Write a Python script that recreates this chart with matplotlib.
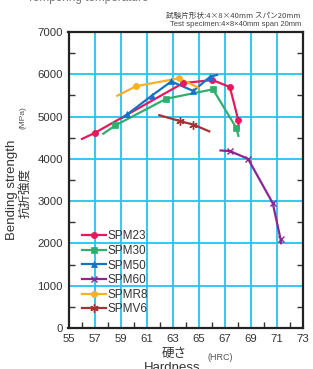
import matplotlib
matplotlib.use("Agg")
import matplotlib.pyplot as plt
from matplotlib.ticker import MultipleLocator, FixedLocator

# ---- data ----
spm23_x = [55.96, 57.0, 63.8, 66.05, 67.4, 68.05, 68.08]
spm23_y = [4460, 4610, 5790, 5865, 5700, 4915, 4680]
spm23_mx = [57.0, 63.8, 66.05, 67.4, 68.05]
spm23_my = [4610, 5790, 5865, 5700, 4915]

spm30_x = [57.6, 58.6, 62.5, 66.1, 67.9, 68.08]
spm30_y = [4580, 4790, 5420, 5645, 4730, 4520]
spm30_mx = [58.6, 62.5, 66.1, 67.9]
spm30_my = [4790, 5420, 5645, 4730]

spm50_x = [59.07, 59.5, 61.4, 62.9, 64.6, 65.9, 66.5]
spm50_y = [4955, 5050, 5495, 5830, 5605, 5945, 5990]
spm50_mx = [59.5, 61.4, 62.9, 64.6, 65.9]
spm50_my = [5050, 5495, 5830, 5605, 5945]

spm60_x = [66.6, 67.4, 68.8, 70.7, 71.3, 71.35]
spm60_y = [4200, 4185, 4000, 2950, 2100, 1980]
spm60_mx = [67.4, 68.8, 70.7, 71.3]
spm60_my = [4185, 4000, 2950, 2100]

spmr8_x = [58.67, 60.2, 63.5, 65.05]
spmr8_y = [5480, 5720, 5905, 5670]
spmr8_mx = [60.2, 63.5]
spmr8_my = [5720, 5905]

spmv6_x = [61.9, 63.6, 64.6, 65.9]
spmv6_y = [5040, 4890, 4810, 4640]
spmv6_mx = [63.6, 64.6]
spmv6_my = [4890, 4810]

series = [
    ("SPM23", spm23_x, spm23_y, spm23_mx, spm23_my, "#e8185c", "o", 4.5),
    ("SPM30", spm30_x, spm30_y, spm30_mx, spm30_my, "#2fae6e", "s", 5),
    ("SPM50", spm50_x, spm50_y, spm50_mx, spm50_my, "#1474c4", "^", 4),
    ("SPM60", spm60_x, spm60_y, spm60_mx, spm60_my, "#8b2594", "x", 4.5),
    ("SPMR8", spmr8_x, spmr8_y, spmr8_mx, spmr8_my, "#f7b124", "o", 4.5),
    ("SPMV6", spmv6_x, spmv6_y, spmv6_mx, spmv6_my, "#a33434", (6, 2, 0), 6),
]

x_major = [55, 57, 59, 61, 63, 65, 67, 69, 71, 73]
y_major = [0, 1000, 2000, 3000, 4000, 5000, 6000, 7000]

plt.rcParams['font.family'] = ['Liberation Sans', 'Noto Sans CJK JP']

W, H = 313, 369
fig = plt.figure(figsize=(W / 100, H / 100), dpi=100)
ax = fig.add_axes([68.5 / W, 1 - 328 / H, (302.7 - 68.5) / W, (328 - 32) / H])

ax.set_xlim(55, 73)
ax.set_ylim(0, 7000)

grid_c = "#22c4f0"
for gx in [57, 59, 61, 63, 65, 67, 69, 71]:
    ax.axvline(gx, color=grid_c, lw=1.3, zorder=1)
for gy in [1000, 2000, 3000, 4000, 5000, 6000]:
    ax.axhline(gy, color=grid_c, lw=1.3, zorder=1)

handles = []
for name, xs, ys, mx, my, c, m, ms in series:
    ax.plot(xs, ys, color=c, lw=1.6, zorder=3, solid_capstyle='butt')
    mew = 1.0 if m in ("x",) or isinstance(m, tuple) else 0.5
    ax.plot(mx, my, ls='none', marker=m, color=c, ms=ms, mew=mew, zorder=4)
    h, = ax.plot([], [], color=c, lw=1.6, marker=m, ms=ms, mew=mew, label=name)
    handles.append(h)

for s in ax.spines.values():
    s.set_linewidth(1.6)
    s.set_color("#222222")

ax.xaxis.set_major_locator(FixedLocator(x_major))
ax.xaxis.set_minor_locator(FixedLocator([56, 58, 60, 62, 64, 66, 68, 70, 72]))
ax.yaxis.set_major_locator(FixedLocator(y_major))
ax.yaxis.set_minor_locator(FixedLocator([500, 1500, 2500, 3500, 4500, 5500, 6500]))
ax.tick_params(which='major', length=0, labelsize=8.2, colors="#333333", pad=4)
ax.tick_params(which='minor', direction='in', length=4, width=1.0, color="#333333",
               right=True, bottom=True, left=True)
ax.tick_params(axis='y', which='minor', right=True)

leg = ax.legend(handles=handles, loc='upper left', bbox_to_anchor=(0.058, 0.33),
                frameon=False, fontsize=8.5, handlelength=2.0, handletextpad=0.15,
                labelspacing=0.22, borderpad=0, borderaxespad=0)
for t in leg.get_texts():
    t.set_color("#333333")

# axis labels
fig.text(12 / W, 1 - 190 / H, "Bending strength", rotation=90, ha='center', va='center',
         fontsize=9.5, color="#333333")
fig.text(26 / W, 1 - 193 / H, "抗折強度", rotation=90, ha='center', va='center',
         fontsize=9, color="#333333", family=['Noto Sans CJK JP'])
fig.text(23 / W, 1 - 118 / H, "(MPa)", rotation=90, ha='center', va='center',
         fontsize=6, color="#555555")

fig.text(174 / W, 1 - 354 / H, "硬さ", ha='center', va='center',
         fontsize=9, color="#333333", family=['Noto Sans CJK JP'])
fig.text(220 / W, 1 - 358 / H, "(HRC)", ha='center', va='center',
         fontsize=6.5, color="#555555")
fig.text(172 / W, 1 - 368 / H, "Hardness", ha='center', va='center',
         fontsize=9.5, color="#333333")

fig.text(27 / W, 1 - 1.5 / H, "Tempering temperature", ha='left', va='baseline',
         fontsize=8.5, color="#777777")
fig.text(301 / W, 1 - 16 / H, "試験片形状:4×8×40mm スパン20mm", ha='right', va='center',
         fontsize=5.5, color="#444444", family=['Noto Sans CJK JP', 'DejaVu Sans'])
fig.text(301 / W, 1 - 25 / H, "Test specimen:4×8×40mm span 20mm", ha='right', va='center',
         fontsize=5.5, color="#444444")

fig.savefig("out.png", dpi=100)
